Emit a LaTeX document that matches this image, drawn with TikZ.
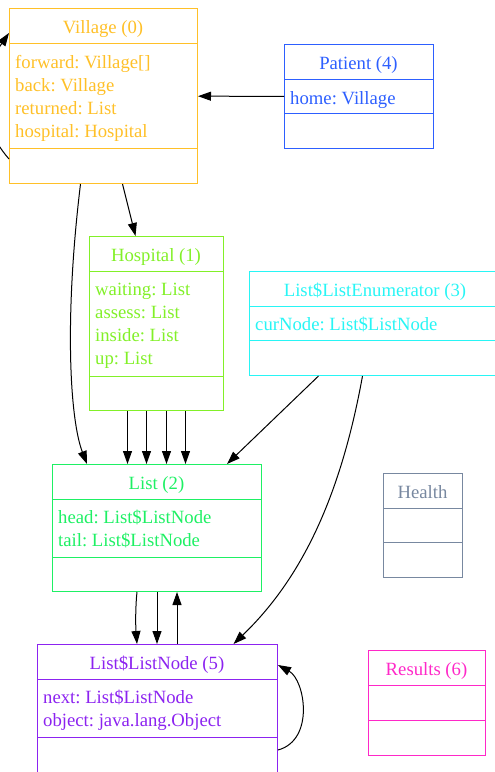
\documentclass[tikz,border=0pt]{standalone}
\usepackage{fontspec}
\setmainfont{Liberation Serif}
\usetikzlibrary{arrows.meta,calc}

\begin{document}
\begin{tikzpicture}[x=1pt,y=1pt,yscale=-1,xscale=1,
  font=\fontsize{18.7}{23}\selectfont\frenchspacing,
  classbox/.style={draw,line width=1pt,inner sep=0pt,anchor=north west},
  classname/.style={anchor=base,inner sep=0pt},
  field/.style={anchor=base west,inner sep=0pt},
  sep/.style={line width=1pt},
  ref/.style={line width=1pt,-{Triangle[length=13pt,width=9pt]}},
  colVillage/.style={color={rgb, 255:red, 255; green, 192; blue, 40}},
  colPatient/.style={color={rgb, 255:red, 45; green, 95; blue, 255}},
  colHospital/.style={color={rgb, 255:red, 130; green, 240; blue, 40}},
  colEnum/.style={color={rgb, 255:red, 40; green, 245; blue, 245}},
  colList/.style={color={rgb, 255:red, 30; green, 240; blue, 100}},
  colHealth/.style={color={rgb, 255:red, 120; green, 136; blue, 160}},
  colNode/.style={color={rgb, 255:red, 140; green, 35; blue, 240}},
  colResults/.style={color={rgb, 255:red, 255; green, 40; blue, 200}}]
\useasboundingbox (0,0) rectangle (495,772);

%Shape: Village (0)
\node[classbox,colVillage,minimum width=188pt,minimum height=175pt] (village) at (9,8) {};
\draw[sep,colVillage] (9,43) -- (197,43) (9,148) -- (197,148);
% Text Node
\node[classname,colVillage] (villageName) at (103,33) {Village (0)};
\node[field,colVillage] (villageF1) at (15,68) {forward: Village[]};
\node[field,colVillage] (villageF2) at (15,91) {back: Village};
\node[field,colVillage] (villageF3) at (15,114) {returned: List};
\node[field,colVillage] (villageF4) at (15,137) {hospital: Hospital};

%Shape: Patient (4)
\node[classbox,colPatient,minimum width=149pt,minimum height=104pt] (patient) at (284,44) {};
\draw[sep,colPatient] (284,79) -- (433,79) (284,113) -- (433,113);
% Text Node
\node[classname,colPatient] (patientName) at (358.5,69) {Patient (4)};
\node[field,colPatient] (patientF1) at (290,104) {home: Village};

%Shape: Hospital (1)
\node[classbox,colHospital,minimum width=134pt,minimum height=174pt] (hospital) at (89,236) {};
\draw[sep,colHospital] (89,271) -- (223,271) (89,376) -- (223,376);
% Text Node
\node[classname,colHospital] (hospitalName) at (156,261) {Hospital (1)};
\node[field,colHospital] (hospitalF1) at (95,295) {waiting: List};
\node[field,colHospital] (hospitalF2) at (95,318) {assess: List};
\node[field,colHospital] (hospitalF3) at (95,341) {inside: List};
\node[field,colHospital] (hospitalF4) at (95,364) {up: List};

%Shape: List$ListEnumerator (3)
\node[classbox,colEnum,minimum width=252pt,minimum height=104pt] (enumerator) at (249,271) {};
\draw[sep,colEnum] (249,306) -- (501,306) (249,340) -- (501,340);
% Text Node
\node[classname,colEnum] (enumeratorName) at (375,296) {List\$ListEnumerator (3)};
\node[field,colEnum] (enumeratorF1) at (255,330) {curNode: List\$ListNode};

%Shape: List (2)
\node[classbox,colList,minimum width=209pt,minimum height=127pt] (list) at (52,464) {};
\draw[sep,colList] (52,499) -- (261,499) (52,557) -- (261,557);
% Text Node
\node[classname,colList] (listName) at (156.5,489) {List (2)};
\node[field,colList] (listF1) at (58,523) {head: List\$ListNode};
\node[field,colList] (listF2) at (58,546) {tail: List\$ListNode};

%Shape: Health
\node[classbox,colHealth,minimum width=79pt,minimum height=104pt] (health) at (383,473) {};
\draw[sep,colHealth] (383,508) -- (462,508) (383,542) -- (462,542);
% Text Node
\node[classname,colHealth] (healthName) at (422.5,498) {Health};

%Shape: List$ListNode (5)
\node[classbox,colNode,minimum width=240pt,minimum height=129pt] (listnode) at (37,644) {};
\draw[sep,colNode] (37,679) -- (277,679) (37,737) -- (277,737);
% Text Node
\node[classname,colNode] (listnodeName) at (157,669) {List\$ListNode (5)};
\node[field,colNode] (listnodeF1) at (43,703) {next: List\$ListNode};
\node[field,colNode] (listnodeF2) at (43,726) {object: java.lang.Object};

%Shape: Results (6)
\node[classbox,colResults,minimum width=117pt,minimum height=105pt] (results) at (368,650) {};
\draw[sep,colResults] (368,685) -- (485,685) (368,720) -- (485,720);
% Text Node
\node[classname,colResults] (resultsName) at (426.5,675) {Results (6)};

%Straight Lines: references
\draw[ref] (patient) -- (village);
\draw[ref] ($(village.south west)+(0,-25)$) .. controls (-25,120) and (-20,75) .. ($(village.north west)+(0,25)$);
\draw[ref] ([xshift=19pt]village.south) -- ([xshift=-21pt]hospital.north);
\draw[ref] ([xshift=-23pt]village.south) .. controls (64,320) and (70,420) .. ([xshift=-70pt]list.north);
\draw[ref] ([xshift=-29pt]hospital.south) -- ([xshift=-29pt]hospital.south |- list.north);
\draw[ref] ([xshift=-10pt]hospital.south) -- ([xshift=-10pt]hospital.south |- list.north);
\draw[ref] ([xshift=10pt]hospital.south) -- ([xshift=10pt]hospital.south |- list.north);
\draw[ref] ([xshift=29pt]hospital.south) -- ([xshift=29pt]hospital.south |- list.north);
\draw[ref] ([xshift=-57pt]enumerator.south) -- ([xshift=70pt]list.north);
\draw[ref] ([xshift=-13pt]enumerator.south) .. controls (340,500) and (300,580) .. ([xshift=76pt]listnode.north);
\draw[ref] ([xshift=-20pt]list.south) .. controls (135.5,605) and (135.5,625) .. ([xshift=-20pt]list.south |- listnode.north);
\draw[ref] (list.south) -- (list.south |- listnode.north);
\draw[ref] ([xshift=20pt]list.south |- listnode.north) -- ([xshift=20pt]list.south);
\draw[ref] ($(listnode.north east)+(0,106)$) .. controls (315,740) and (305,680) .. ($(listnode.north east)+(0,21)$);

\end{tikzpicture}
\end{document}
